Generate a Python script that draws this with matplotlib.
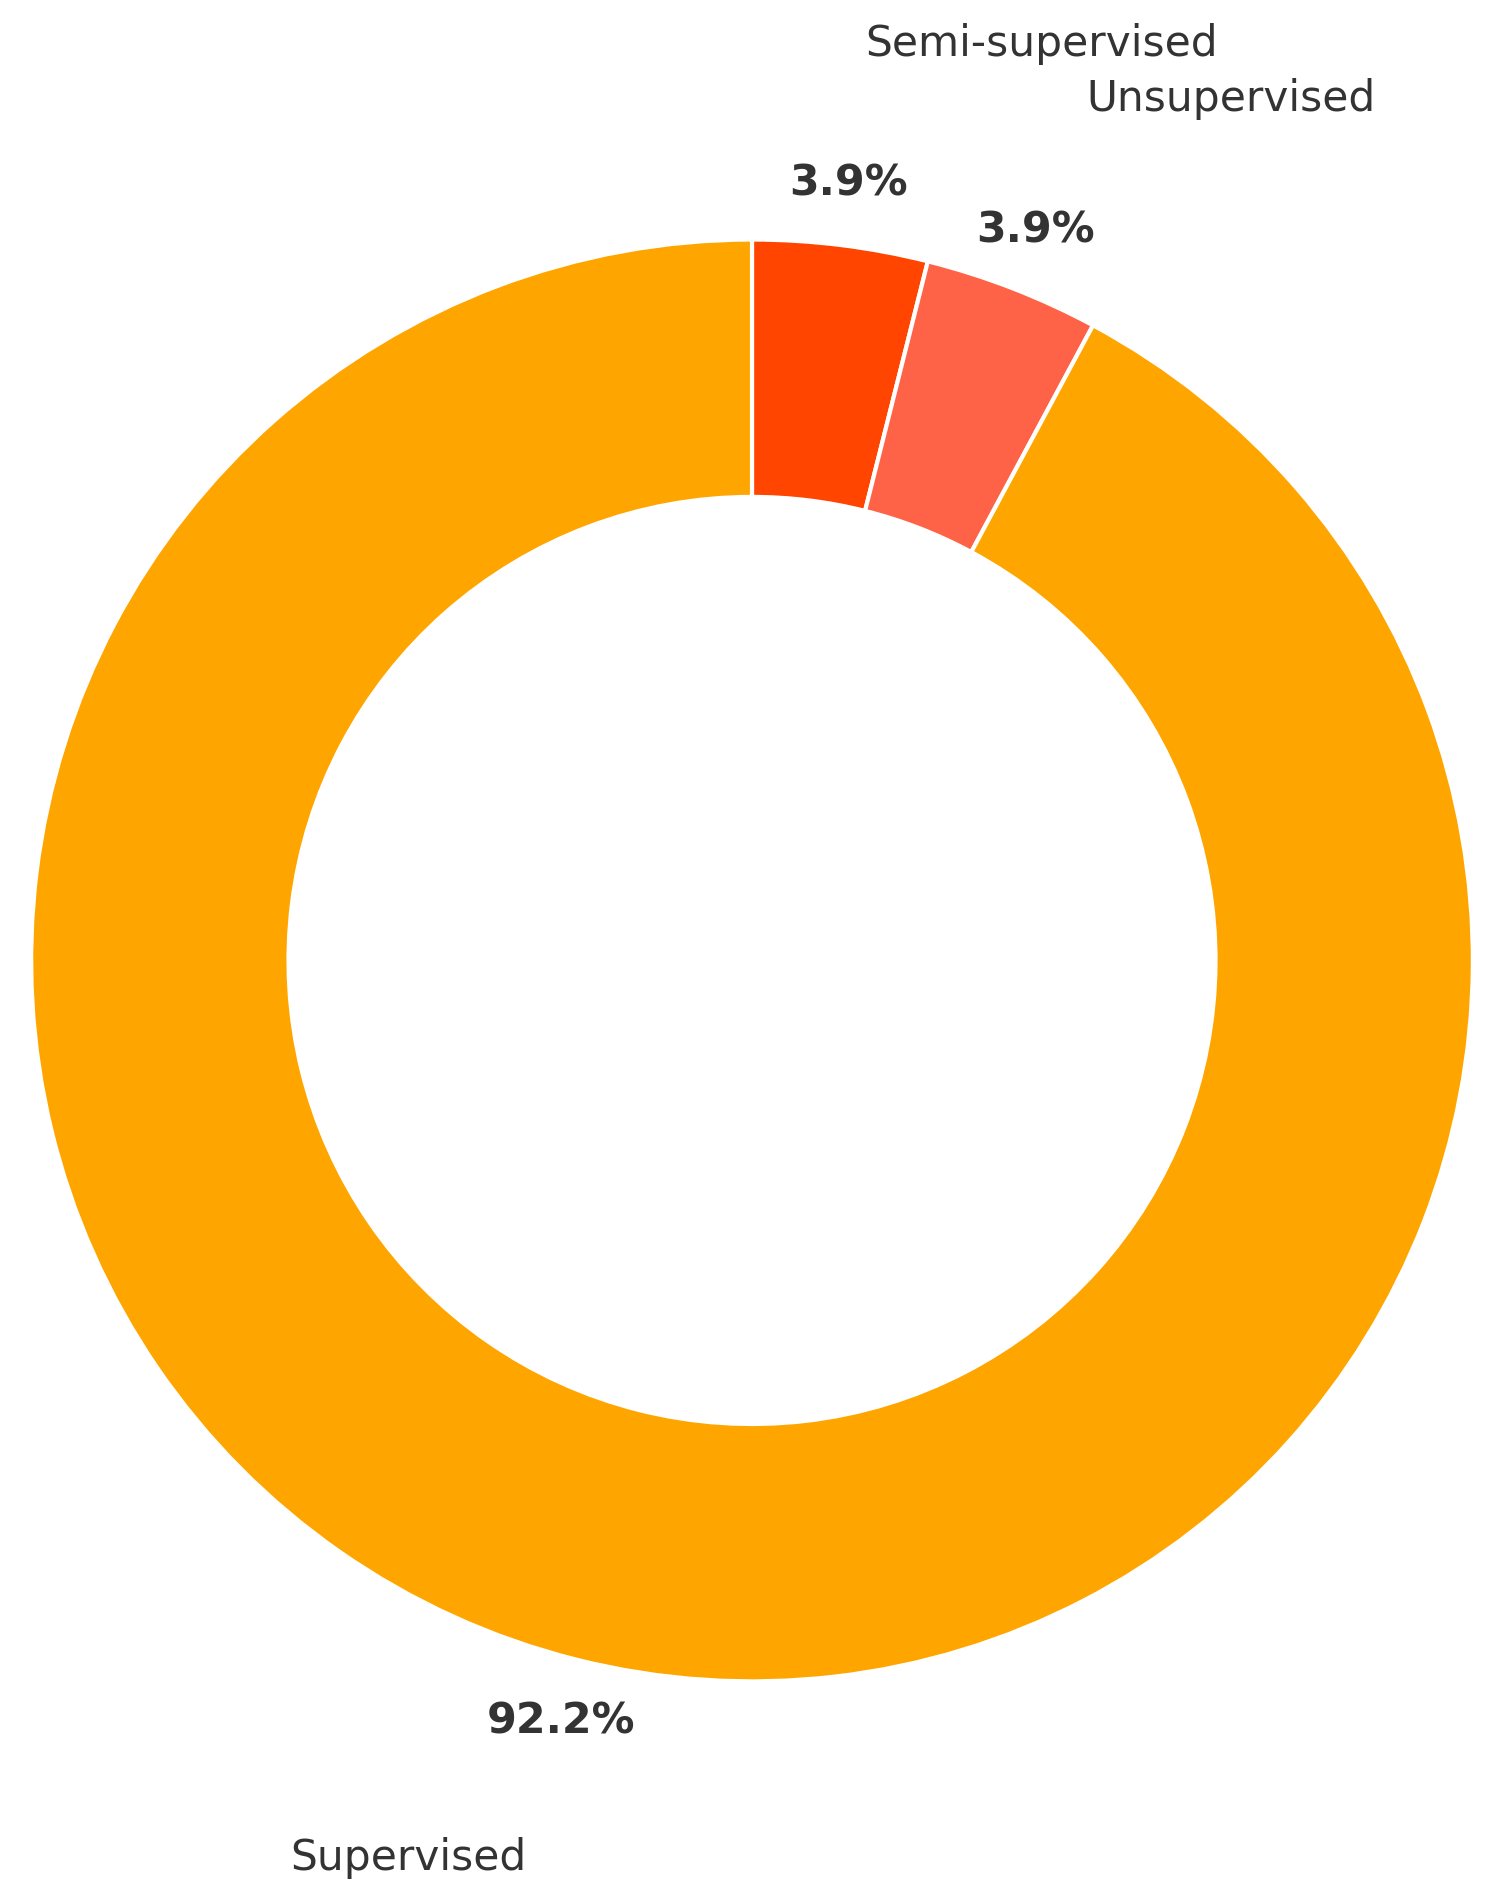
import matplotlib
matplotlib.use('Agg')
import matplotlib.pyplot as plt

labels = ['Semi-supervised', 'Unsupervised', 'Supervised']
counts = [2, 2, 47]
colors = ['#FF4500', '#FF6347', '#FFA500']

fig = plt.figure(figsize=(15.01, 18.99), dpi=100)
ax = fig.add_axes([0, 0, 1, 1])

wedges, texts, autotexts = ax.pie(counts, labels=labels, colors=colors,
                                  autopct='%1.1f%%', startangle=90,
                                  counterclock=False, labeldistance=1.283,
                                  pctdistance=1.087,
                                  wedgeprops=dict(width=0.357, edgecolor='white', linewidth=3),
                                  textprops=dict(color='#333333', fontsize=30.4))
for t in autotexts:
    t.set_fontweight('bold')
    t.set_fontsize(30.8)

s = 1.004
ax.set_xlim(-1.0474 / s, 1.0432 / s)
ax.set_ylim(-1.3057 / s, 1.339 / s)
ax.set_aspect('auto')
ax.axis('off')

plt.savefig('out.png', dpi=100, facecolor='w')
